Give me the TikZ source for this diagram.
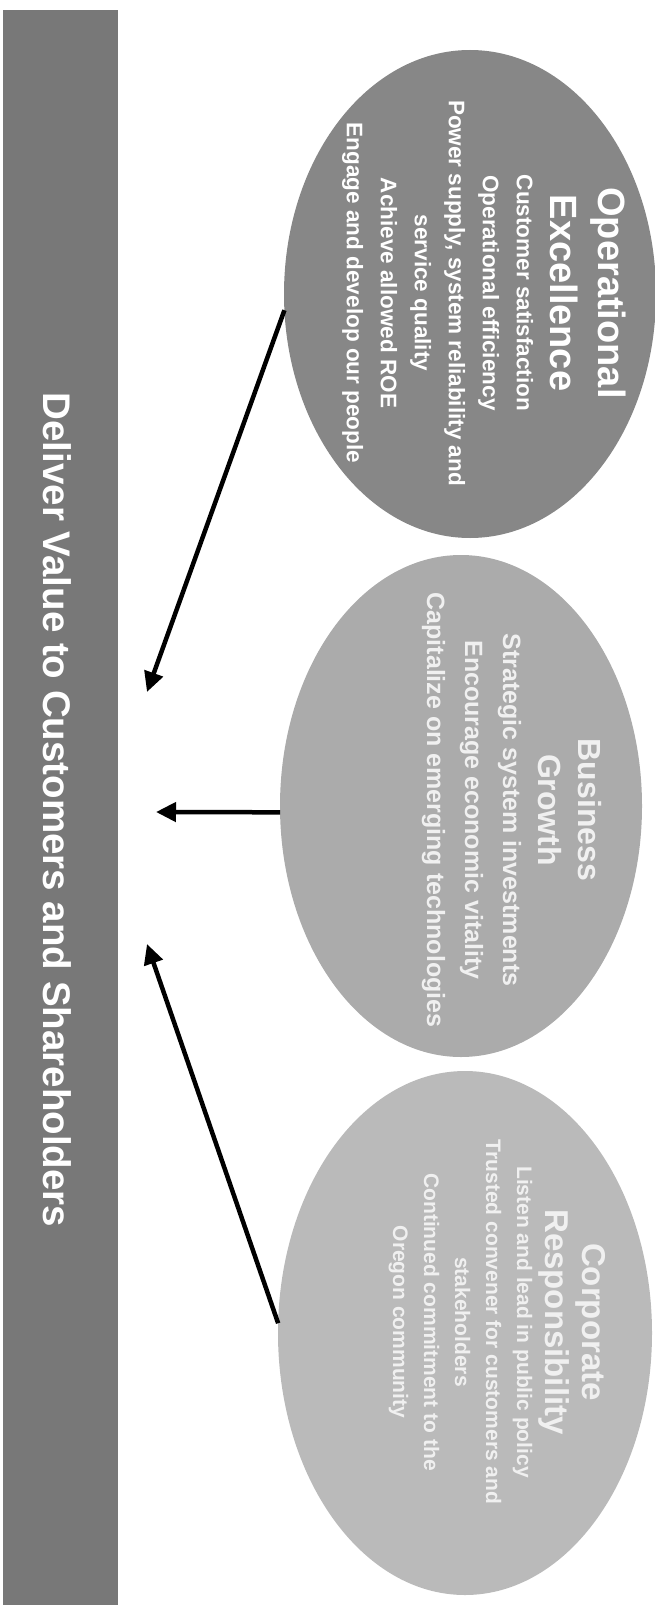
\documentclass[tikz,border=0pt]{standalone}
\usepackage{fontspec}
\setmainfont{Liberation Sans}
\usetikzlibrary{shapes.geometric,arrows.meta}
\definecolor{barcol}{gray}{0.47}
\definecolor{eonecol}{gray}{0.53}
\definecolor{etwocol}{gray}{0.67}
\definecolor{ethreecol}{gray}{0.73}
\definecolor{lighttext}{gray}{0.94}
\tikzset{
  goal/.style={ellipse, inner sep=0pt, outer sep=0pt, draw=none},
  goaltext/.style={rotate=-90, align=center, inner sep=0pt, anchor=north, font=\bfseries},
  link/.style={line width=4.5pt, draw=black, -{Triangle[length=20pt,width=19pt]}},
}
\begin{document}
\begin{tikzpicture}[x=1pt,y=-1pt]
\useasboundingbox (0,0) rectangle (654,1605);
% bar
\node[fill=barcol, minimum width=115pt, minimum height=1595pt, inner sep=0pt, outer sep=0pt, anchor=north west] (bar) at (3,10) {};
\node[rotate=-90, text=white, font=\bfseries\fontsize{38.5}{44}\selectfont, inner sep=0pt] (bartext) at (57,810) {Deliver Value to Customers and Shareholders};
% ellipses
\node[goal, fill=eonecol, minimum width=372pt, minimum height=488pt] (e1) at (470,294) {};
\node[goal, fill=etwocol, minimum width=362pt, minimum height=502pt] (e2) at (461,806) {};
\node[goal, fill=ethreecol, minimum width=374pt, minimum height=524pt] (e3) at (465,1333) {};
% texts
\node[goaltext, text=white, font=\bfseries\fontsize{22.5}{34}\selectfont] (t1) at (626,293)
  {{\fontsize{38}{45}\selectfont Operational}\\[11pt]
   {\fontsize{38}{45}\selectfont Excellence}\\
   Customer satisfaction\\
   Operational efficiency\\
   Power supply, system reliability and\\
   service quality\\
   Achieve allowed ROE\\
   Engage and develop our people};
\node[goaltext, text=lighttext, font=\bfseries\fontsize{25}{38}\selectfont] (t2) at (602,810)
  {{\fontsize{32}{40}\selectfont Business}\\[2pt]
   {\fontsize{32}{40}\selectfont Growth}\\[-2.5pt]
   Strategic system investments\\
   Encourage economic vitality\\
   Capitalize on emerging technologies};
\node[goaltext, text=lighttext, font=\bfseries\fontsize{21}{31}\selectfont] (t3) at (606,1322)
  {{\fontsize{33}{40}\selectfont Corporate}\\[6pt]
   {\fontsize{33}{40}\selectfont Responsibility}\\[-2.4pt]
   Listen and lead in public policy\\
   Trusted convener for customers and\\
   stakeholders\\
   Continued commitment to the\\
   Oregon community};
% arrow tips
\coordinate (a1) at (147,692);
\coordinate (a2) at (156,812);
\coordinate (a3) at (147,944);
\draw[link] (e1.185) -- (a1);
\draw[link] (e2.182.5) -- (a2);
\draw[link] (e3.177.5) -- (a3);
\end{tikzpicture}
\end{document}
